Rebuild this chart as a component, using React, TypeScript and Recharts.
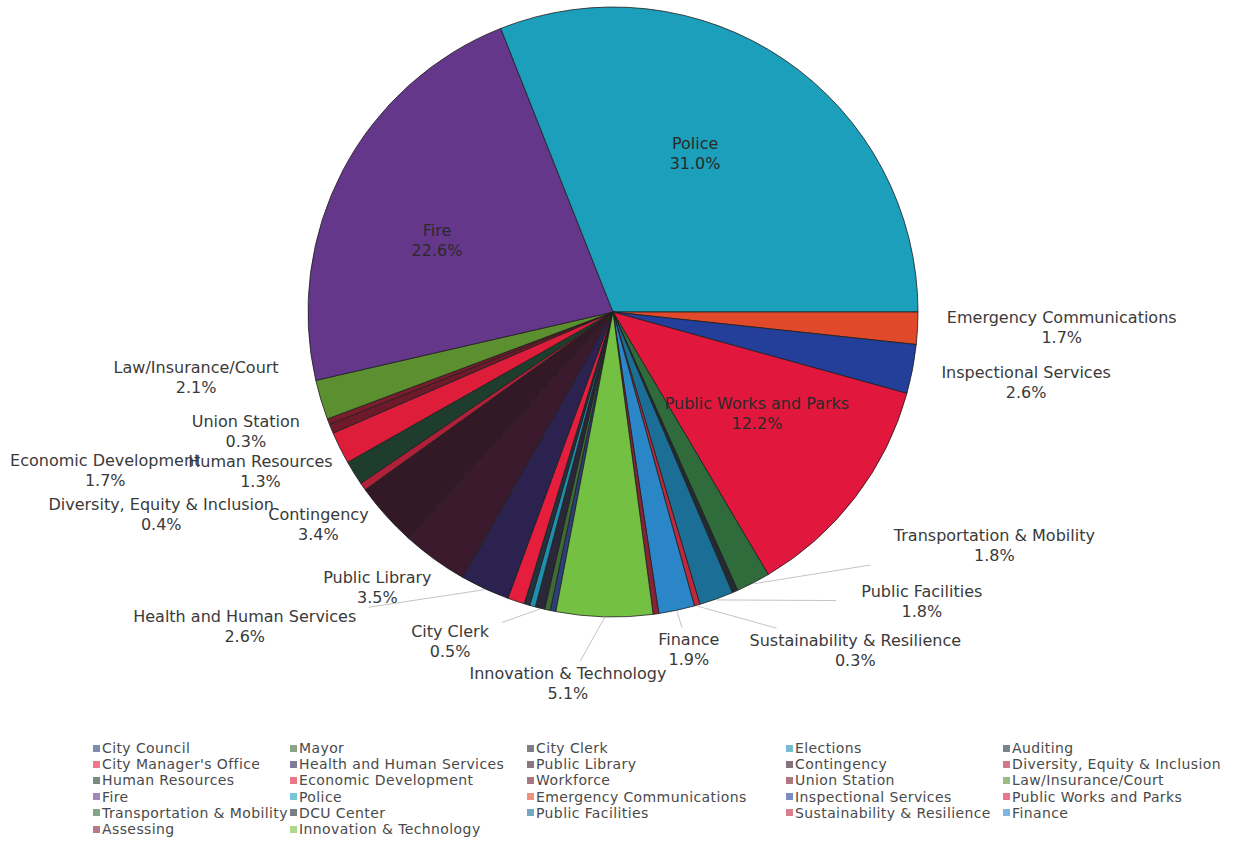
import React from "react";
import { PieChart, Pie, Cell, Legend } from "recharts";

// ---- data (clockwise order, as in the legend) ----
const departments = [
  "City Council", "Mayor", "City Clerk", "Elections", "Auditing",
  "City Manager's Office", "Health and Human Services", "Public Library", "Contingency", "Diversity, Equity & Inclusion",
  "Human Resources", "Economic Development", "Workforce", "Union Station", "Law/Insurance/Court",
  "Fire", "Police", "Emergency Communications", "Inspectional Services", "Public Works and Parks",
  "Transportation & Mobility", "DCU Center", "Public Facilities", "Sustainability & Resilience", "Finance",
  "Assessing", "Innovation & Technology",
];

const budgetShare = [
  0.3, 0.3, 0.5, 0.3, 0.3,
  0.9, 2.6, 3.5, 3.4, 0.4,
  1.3, 1.7, 0.5, 0.3, 2.1,
  22.6, 31.0, 1.7, 2.6, 12.2,
  1.8, 0.3, 1.8, 0.3, 1.9,
  0.3, 5.1,
];

const sliceColors = [
  "#2c3f7a", "#3d6b35", "#2a2838", "#1f8fb0", "#24323d",
  "#e41e3c", "#2b2250", "#3a1a2c", "#331826", "#b02038",
  "#1f3d2d", "#dd1d3a", "#6e1a2a", "#7a1c2c", "#5b8f2f",
  "#64378a", "#1c9fbb", "#e04a2a", "#233f9a", "#e2173d",
  "#2f6b3b", "#232a30", "#1b6f96", "#c0283e", "#2b86c8",
  "#8a2235", "#74c043",
];

// label layout: [radial offset from pie edge (px), clockwise angle shift (deg), leader line]
const labelLayout: Record<string, [number, number, number]> = {
  "Police": [-126, -6.9, 0],
  "Fire": [-115, -5.6, 0],
  "Public Works and Parks": [-129, -2.3, 0],
  "Emergency Communications": [144, -1.1, 0],
  "Inspectional Services": [114, -1.2, 0],
  "Transportation & Mobility": [142, -31.2, 1],
  "Public Facilities": [118, -27.1, 1],
  "Sustainability & Resilience": [111, -19.6, 1],
  "Finance": [41, -0.6, 1],
  "Innovation & Technology": [69, 5.3, 1],
  "City Clerk": [62, 12.5, 1],
  "Health and Human Services": [179, 24.7, 1],
  "Public Library": [57, 4.8, 0],
  "Contingency": [58, 6, 0],
  "Diversity, Equity & Inclusion": [190, 10.8, 0],
  "Human Resources": [82, 7.5, 0],
  "Economic Development": [227, 9.1, 0],
  "Union Station": [81, 3.1, 0],
  "Law/Insurance/Court": [117, 7.8, 0],
};

const data = departments.map((name, i) => ({ name, value: budgetShare[i] }));

const FONT = "'DejaVu Sans', 'Liberation Sans', sans-serif";
const RAD = Math.PI / 180;
const polar = (cx: number, cy: number, r: number, a: number) => ({
  x: cx + r * Math.cos(-a * RAD),
  y: cy + r * Math.sin(-a * RAD),
});

const renderLabel = (props: any) => {
  const { cx, cy, midAngle, outerRadius, percent, name, index } = props;
  const lay = labelLayout[name];
  if (!lay) return <g key={`l-${index}`} />;
  const [dr, dth, leader] = lay;
  const c = polar(cx, cy, outerRadius + dr, midAngle - dth);
  const pct = (percent * 100).toFixed(1) + "%";
  const fs = 16;
  const inside = dr < 0;
  let line = null;
  if (leader) {
    const s = polar(cx, cy, outerRadius + 1, midAngle);
    const hw = Math.max(name.length, pct.length) * fs * 0.3 + 4;
    const hh = 22;
    const dx = s.x - c.x;
    const dy = s.y - c.y;
    const t = Math.min(Math.abs(dx) > 0.01 ? hw / Math.abs(dx) : 1e9, Math.abs(dy) > 0.01 ? hh / Math.abs(dy) : 1e9);
    if (t < 1) {
      const ex = c.x + dx * t;
      const ey = c.y + dy * t;
      line = <line x1={s.x} y1={s.y} x2={ex} y2={ey} stroke="#c4c4c4" strokeWidth={1} />;
    }
  }
  return (
    <g key={`l-${index}`}>
      {line}
      <text x={c.x} y={c.y} textAnchor="middle" fontFamily={FONT} fontSize={fs} fill={inside ? "#2a2a2a" : "#3a3a3a"}>
        <tspan x={c.x} y={c.y - 10 + fs * 0.36}>{name}</tspan>
        <tspan x={c.x} y={c.y + 10 + fs * 0.36}>{pct}</tspan>
      </text>
    </g>
  );
};

const columnLefts = [93, 290, 527, 786, 1003];

const renderLegend = () => (
  <div style={{ position: "relative", width: 1251, height: 100, fontFamily: FONT, fontSize: 14, color: "#4a4a4a" }}>
    {departments.map((name, i) => {
      const row = Math.floor(i / 5);
      const col = i % 5;
      return (
        <div
          key={name}
          style={{
            position: "absolute",
            left: columnLefts[col],
            top: row * 16.2,
            height: 16,
            lineHeight: "16px",
            whiteSpace: "nowrap",
            display: "flex",
            alignItems: "center",
          }}
        >
          <span style={{ display: "inline-block", width: 7, height: 7, background: sliceColors[i], opacity: 0.6, marginRight: 2 }} />
          <span style={{ letterSpacing: 0.4 }}>{name}</span>
        </div>
      );
    })}
  </div>
);

export default function App() {
  return (
    <div style={{ position: "absolute", left: 0, top: 0, background: "#fff" }}>
      <PieChart width={1251} height={864} margin={{ top: 0, right: 0, bottom: 0, left: 0 }}>
        <Pie
          data={data}
          dataKey="value"
          nameKey="name"
          cx={613}
          cy={312}
          outerRadius={305}
          startAngle={-100.8}
          endAngle={-460.8}
          stroke="#1e1e1e"
          strokeWidth={0.8}
          label={renderLabel}
          labelLine={false}
          isAnimationActive={false}
        >
          {data.map((d, i) => (
            <Cell key={d.name} fill={sliceColors[i]} />
          ))}
        </Pie>
        <Legend
          content={renderLegend}
          wrapperStyle={{ position: "absolute", left: 0, top: 740, width: 1251, height: 100 }}
        />
      </PieChart>
    </div>
  );
}
